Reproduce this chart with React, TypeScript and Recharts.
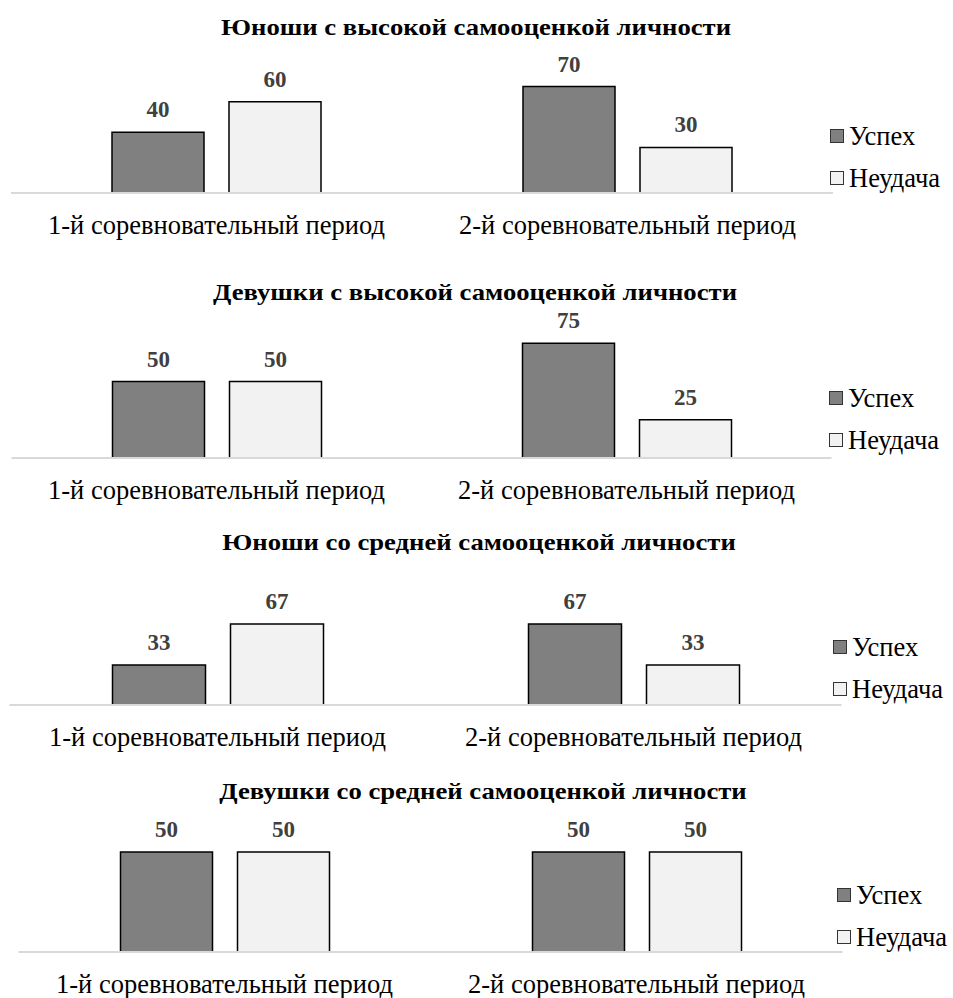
import React from "react";
import { BarChart, Bar, XAxis, YAxis, LabelList } from "recharts";

// categories and series
const periods = ["1-й соревновательный период", "2-й соревновательный период"];
const seriesNames = ["Успех", "Неудача"];

const titles = [
  "Юноши с высокой самооценкой личности",
  "Девушки с высокой самооценкой личности",
  "Юноши со средней самооценкой личности",
  "Девушки со средней самооценкой личности",
];

// values per group: [1-й период, 2-й период]
const boysHighSuccess = [40, 70];
const boysHighFailure = [60, 30];
const girlsHighSuccess = [50, 75];
const girlsHighFailure = [50, 25];
const boysMidSuccess = [33, 67];
const boysMidFailure = [67, 33];
const girlsMidSuccess = [50, 50];
const girlsMidFailure = [50, 50];

const FONT = "'Liberation Serif', 'Times New Roman', serif";
const SERIES_FILLS = ["#808080", "#f2f2f2"];

const buildRows = (success: number[], failure: number[]) =>
  periods.map((name, i) => ({ name, success: success[i], failure: failure[i] }));

// layout of each block on the page
const panels = [
  {
    title: titles[0], rows: buildRows(boysHighSuccess, boysHighFailure),
    top: 0, titleX: 476, titleY: 28, plotTop: 71.4, axis: 193, yMax: 80,
    left: 11, right: 833, barSize: 92, barGap: 25, legendX: 830, legendY: 136,
  },
  {
    title: titles[1], rows: buildRows(girlsHighSuccess, girlsHighFailure),
    top: 250, titleX: 475, titleY: 293, plotTop: 85.6, axis: 208, yMax: 80,
    left: 11.5, right: 831.5, barSize: 92, barGap: 25, legendX: 829, legendY: 398,
  },
  {
    title: titles[2], rows: buildRows(boysMidSuccess, boysMidFailure),
    top: 515, titleX: 479, titleY: 543, plotTop: 93.2, axis: 190, yMax: 80,
    left: 9.5, right: 841.5, barSize: 93, barGap: 25, legendX: 833, legendY: 647,
  },
  {
    title: titles[3], rows: buildRows(girlsMidSuccess, girlsMidFailure),
    top: 760, titleX: 483, titleY: 792, plotTop: 72, axis: 192, yMax: 60,
    left: 18.5, right: 842.5, barSize: 92, barGap: 25, legendX: 837, legendY: 895,
  },
];

const CategoryTick = (props: any) => {
  const { x, y, payload } = props;
  return (
    <text x={x} y={y} dy={41} textAnchor="middle" fontFamily={FONT} fontSize={26.5} fill="#000">
      {payload.value}
    </text>
  );
};

// legend drawn beside the plot, one row per series
const SeriesLegend = ({ x, y }: { x: number; y: number }) => (
  <div style={{ position: "absolute", left: x, top: y - 21, fontFamily: FONT, fontSize: 26.5, color: "#000" }}>
    {seriesNames.map((name, i) => (
      <div key={name} style={{ display: "flex", alignItems: "center", height: 42 }}>
        <span
          style={{
            display: "inline-block",
            width: 12,
            height: 12,
            background: SERIES_FILLS[i],
            border: "1.5px solid #333",
            marginRight: 5,
          }}
        />
        <span>{name}</span>
      </div>
    ))}
  </div>
);

const Panel = ({ p }: { p: (typeof panels)[number] }) => {
  const axisHeight = 60;
  return (
    <div style={{ position: "absolute", left: 0, top: p.top, width: 953 }}>
      <div
        style={{
          position: "absolute",
          left: p.titleX - 300,
          top: p.titleY - p.top - 13,
          width: 600,
          textAlign: "center",
          fontFamily: FONT,
          fontWeight: "bold",
          fontSize: 23,
          lineHeight: "26px",
          color: "#000",
          transform: "scaleX(1.16)",
          transformOrigin: "50% 50%",
        }}
      >
        {p.title}
      </div>
      <BarChart
        width={953}
        height={p.axis + axisHeight}
        data={p.rows}
        barSize={p.barSize}
        barGap={p.barGap}
        margin={{ top: p.plotTop, right: 953 - p.right, bottom: 0, left: p.left }}
        style={{ overflow: "visible" }}
      >
        <XAxis
          dataKey="name"
          height={axisHeight}
          axisLine={{ stroke: "#d9d9d9", strokeWidth: 2 }}
          tickLine={false}
          tickSize={0}
          tickMargin={0}
          tick={<CategoryTick />}
          interval={0}
        />
        <YAxis hide width={0} domain={[0, p.yMax]} />
        <Bar dataKey="success" name={seriesNames[0]} fill={SERIES_FILLS[0]} stroke="#000" strokeWidth={1.5} isAnimationActive={false}>
          <LabelList dataKey="success" position="top" offset={15} fill="#404040" fontFamily={FONT} fontWeight="bold" fontSize={23} />
        </Bar>
        <Bar dataKey="failure" name={seriesNames[1]} fill={SERIES_FILLS[1]} stroke="#000" strokeWidth={1.5} isAnimationActive={false}>
          <LabelList dataKey="failure" position="top" offset={15} fill="#404040" fontFamily={FONT} fontWeight="bold" fontSize={23} />
        </Bar>
      </BarChart>
      <SeriesLegend x={p.legendX} y={p.legendY - p.top} />
    </div>
  );
};

export default function App() {
  return (
    <div
      style={{
        position: "absolute",
        left: 0,
        top: 0,
        width: 953,
        height: 998,
        overflow: "hidden",
        background: "#fff",
      }}
    >
      {panels.map((p) => (
        <Panel key={p.title} p={p} />
      ))}
    </div>
  );
}
